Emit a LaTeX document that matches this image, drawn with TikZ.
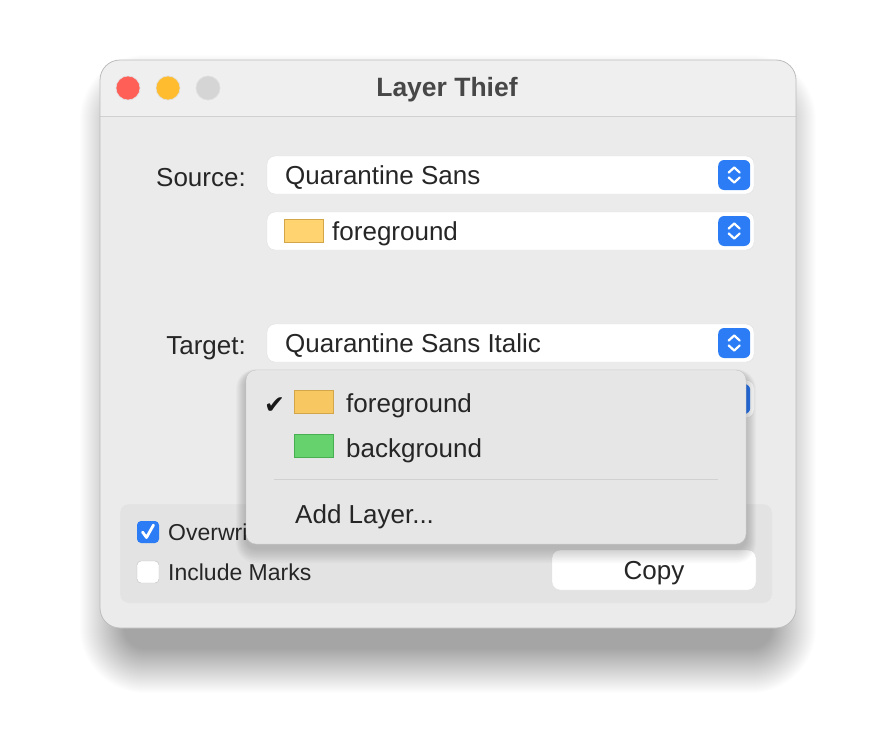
\documentclass[tikz,border=0pt]{standalone}
\usepackage{fontspec}
\setmainfont{Liberation Sans}
\newfontfamily\symfont{DejaVu Sans}
\usepackage{tikz}
\usetikzlibrary{positioning}

\definecolor{winbody}{HTML}{EBEBEB}
\definecolor{wintitle}{HTML}{EFEFEF}
\definecolor{winedge}{HTML}{BDBDBD}
\definecolor{macblue}{HTML}{2B7CF5}
\definecolor{tlred}{HTML}{FF5F57}
\definecolor{tlyellow}{HTML}{FEBC2E}
\definecolor{tlgray}{HTML}{D5D5D5}
\definecolor{swyellow}{HTML}{FFD470}
\definecolor{swmenuyellow}{HTML}{F7C862}
\definecolor{swyellowline}{HTML}{D3A64A}
\definecolor{swgreen}{HTML}{66D26E}
\definecolor{swgreenline}{HTML}{48AE52}
\definecolor{groupfill}{HTML}{E3E3E3}
\definecolor{menufill}{HTML}{E6E6E6}
\definecolor{textdark}{HTML}{262626}

\tikzset{
  light/.style={circle, minimum size=24, inner sep=0, draw=black!12, line width=0.6},
  popup/.style={draw=black!12, fill=white, rounded corners=8, minimum width=487, minimum height=38, inner sep=0},
  stepper/.style={fill=macblue, rounded corners=6, minimum width=32, minimum height=30, inner sep=0},
  swatch/.style={minimum width=39, minimum height=23, inner sep=0, line width=0.8},
  lbl/.style={font=\fontsize{26}{30}\selectfont, text=textdark, inner sep=0},
  small/.style={font=\fontsize{23}{27}\selectfont, text=textdark, inner sep=0},
  checkbox/.style={rounded corners=4, minimum size=22, inner sep=0},
  button/.style={draw=black!12, fill=white, rounded corners=8, minimum width=204, minimum height=40, inner sep=0,
    font=\fontsize{26}{30}\selectfont, text=textdark, text height=18, text depth=0},
}

\newcommand{\updown}[1]{%
  \draw[white, line width=2.2, line cap=round, line join=round]
    ([xshift=-5.5,yshift=2.5]#1.center) -- ([yshift=7.5]#1.center) -- ([xshift=5.5,yshift=2.5]#1.center)
    ([xshift=-5.5,yshift=-2.5]#1.center) -- ([yshift=-7.5]#1.center) -- ([xshift=5.5,yshift=-2.5]#1.center);}

\begin{document}
\begin{tikzpicture}[x=1pt, y=-1pt]
  \useasboundingbox (0,0) rectangle (896,728);
  \fill[white] (0,0) rectangle (896,728);

  % window shadow
  \foreach \s in {1,...,45}
    \fill[black, opacity=0.0065, rounded corners=20+\s] (125-\s, 100-\s) rectangle (771+\s, 648+\s);

  % window
  \coordinate (wintl) at (100,60);
  \coordinate (winbr) at (796,628);
  \fill[winbody, rounded corners=20] (wintl) rectangle (winbr);
  \begin{scope}
    \clip[rounded corners=20] (wintl) rectangle (winbr);
    \fill[wintitle] (100,60) rectangle (796,116);
  \end{scope}
  \draw[black!18] (100,116.5) -- (796,116.5);
  \draw[winedge, line width=0.8, rounded corners=20] (wintl) rectangle (winbr);

  \node[light, fill=tlred] (close) at (128,88) {};
  \node[light, fill=tlyellow] (minimise) at (168,88) {};
  \node[light, fill=tlgray] (zoom) at (208,88) {};
  \node[font=\bfseries\fontsize{26.5}{30}\selectfont, text=black!72, inner sep=0, anchor=base] (title) at (447,96) {Layer Thief};

  % source and target
  \node[lbl, anchor=base east] (srclbl) at (246,186) {Source:};
  \node[lbl, anchor=base east] (tgtlbl) at (246,354) {Target:};

  \node[popup] (srcfont) at (510.5,175) {};
  \node[popup] (srclayer) at (510.5,231) {};
  \node[popup] (tgtfont) at (510.5,343) {};
  \node[popup] (tgtlayer) at (510.5,399) {};
  \foreach \p in {srcfont,srclayer,tgtfont,tgtlayer} {
    \node[stepper] (\p-step) at ([xshift=-20]\p.east) {};
    \updown{\p-step}
  }

  \node[lbl, anchor=base west] (srcfontname) at (285,184) {Quarantine Sans};
  \node[swatch, fill=swyellow, draw=swyellowline] (srcswatch) at (303.5,230.5) {};
  \node[lbl, anchor=base west] (srclayername) at (332,240) {foreground};
  \node[lbl, anchor=base west] (tgtfontname) at (285,352) {Quarantine Sans Italic};

  % options
  \node[draw=black!7, fill=groupfill, rounded corners=8, minimum width=652, minimum height=99, inner sep=0] (options) at (446,553.5) {};
  \node[checkbox, fill=macblue] (overwritebox) at (148,532) {};
  \draw[white, line width=2.8, line cap=round, line join=round]
    ([xshift=-5.5,yshift=0]overwritebox.center) -- ([xshift=-1.5,yshift=-5.5]overwritebox.center) -- ([xshift=5.5,yshift=7]overwritebox.center);
  \node[small, anchor=base west] (overwritelbl) at (168,540) {Overwri};
  \node[checkbox, fill=white, draw=black!25] (marksbox) at (148,572) {};
  \node[small, anchor=base west] (markslbl) at (168,580) {Include Marks};
  \node[button] (copybtn) at (654,570) {Copy};

  % layer menu
  \foreach \s in {1,...,10}
    \fill[black, opacity=0.018, rounded corners=10+\s] (246-\s, 374-0.5*\s) rectangle (746+\s, 548+1.5*\s);
  \node[draw=black!22, fill=menufill, rounded corners=10, minimum width=500, minimum height=174, inner sep=0] (layermenu) at (496,457) {};
  \node[font=\symfont\fontsize{25}{28}\selectfont, text=black!90, anchor=base west, inner sep=0] (tick) at (264,413) {✔};
  \node[swatch, fill=swmenuyellow, draw=swyellowline] (fgswatch) at (313.5,402) {};
  \node[lbl, anchor=base west] (fgname) at (346,412) {foreground};
  \node[swatch, fill=swgreen, draw=swgreenline] (bgswatch) at (313.5,446) {};
  \node[lbl, anchor=base west] (bgname) at (346,457) {background};
  \draw[black!18, line width=1] (274,479.5) -- (718,479.5);
  \node[lbl, anchor=base west] (addlayer) at (295,523) {Add Layer...};
\end{tikzpicture}
\end{document}
